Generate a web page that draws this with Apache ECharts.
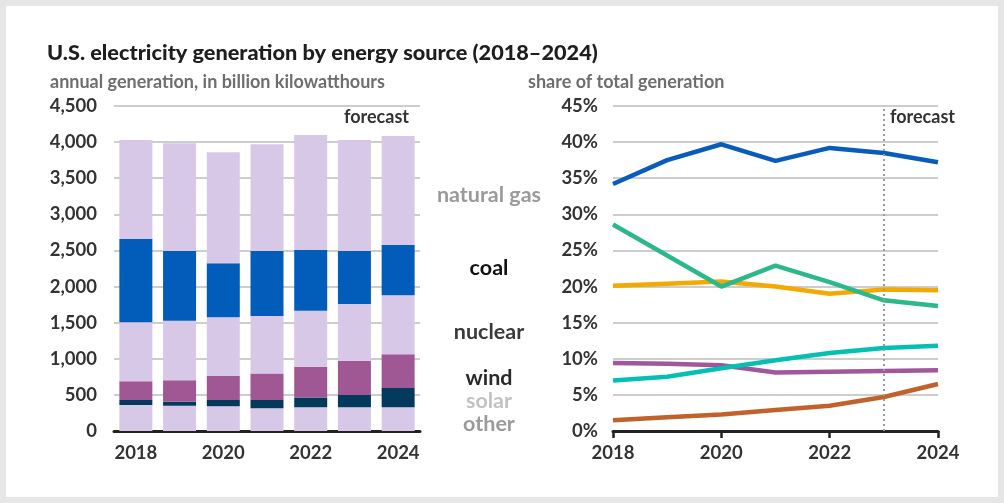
<!DOCTYPE html>
<html>
<head>
<meta charset="utf-8">
<script src="https://cdn.jsdelivr.net/npm/echarts@6/dist/echarts.min.js"></script>
<style>
html,body{margin:0;padding:0;background:#e6e6e6;}
#card{position:absolute;left:6px;top:6px;width:992px;height:491px;background:#fff;}
#chart{position:absolute;left:0;top:0;width:1004px;height:503px;}
</style>
</head>
<body>
<div id="card"></div>
<div id="chart"></div>
<script>
// ---- data ----
const years = ['2018','2019','2020','2021','2022','2023','2024'];
// left chart: annual generation, billion kWh (stack bottom -> top)
const genOther   = [360, 351, 342, 314, 330, 330, 330];
const genSolar   = [69, 55, 87, 115, 133, 169, 264];
const genWind    = [259, 298, 333, 367, 428, 475, 468];
const genNuclear = [817, 824, 813, 797, 775, 785, 817];
const genCoal    = [1154, 965, 747, 900, 841, 734, 697];
const genGas     = [1371, 1492, 1538, 1478, 1593, 1537, 1510];
// right chart: share of total generation, %
const shareGas     = [34.2, 37.5, 39.7, 37.4, 39.2, 38.5, 37.2];
const shareCoal    = [28.6, 24.3, 20.0, 22.9, 20.6, 18.1, 17.3];
const shareNuclear = [20.1, 20.4, 20.7, 20.0, 19.0, 19.6, 19.5];
const shareWind    = [7.0, 7.5, 8.7, 9.8, 10.8, 11.5, 11.8];
const shareOther   = [9.4, 9.3, 9.1, 8.1, 8.2, 8.3, 8.4];
const shareSolar   = [1.5, 1.9, 2.3, 2.9, 3.5, 4.7, 6.5];
const leftTicksMax = 4500, leftInterval = 500;
const rightTicksMax = 45, rightInterval = 5;
const forecastYear = '2023';

const FONT = 'Lato';
const chart = echarts.init(document.getElementById('chart'), null, {renderer:'canvas'});

const axisLabelStyle = {fontFamily: FONT, fontWeight: 'bold', fontSize: 18.5, color: '#333'};
const LAV = '#d8c8e7';

function bar(name, data, color) {
  return {name, type:'bar', stack:'gen', xAxisIndex:0, yAxisIndex:0, data,
    barWidth: 33, itemStyle:{color}, emphasis:{disabled:true}};
}
function line(name, data, color, extra) {
  return Object.assign({name, type:'line', xAxisIndex:1, yAxisIndex:1, data, symbol:'none',
    lineStyle:{color, width:4.5}, itemStyle:{color}, emphasis:{disabled:true}, z:3}, extra||{});
}

const option = {
  animation: false,
  textStyle: {fontFamily: FONT},
  title: [
    {text: 'U.S. electricity generation by energy source (2018–2024)', left: 42, top: 37,
     textStyle:{fontFamily:FONT, fontWeight:900, fontSize:21.7, color:'#1e1e1e'}},
    {text: 'annual generation, in billion kilowatthours', left: 45, top: 68,
     textStyle:{fontFamily:FONT, fontWeight:'bold', fontSize:18, color:'#6e6e6e'}},
    {text: 'share of total generation', left: 523, top: 68,
     textStyle:{fontFamily:FONT, fontWeight:'bold', fontSize:18, color:'#6e6e6e'}}
  ],
  grid: [
    {left:114, right:584, top:106, bottom:72},
    {left:613, right:66, top:106, bottom:72}
  ],
  xAxis: [
    {type:'category', data: years, gridIndex:0, boundaryGap:true,
     axisLine:{lineStyle:{color:'#222', width:3}}, axisTick:{show:false},
     axisLabel: Object.assign({interval:1, margin:13}, axisLabelStyle)},
    {type:'category', data: years, gridIndex:1, boundaryGap:false,
     axisLine:{lineStyle:{color:'#222', width:3}},
     axisTick:{show:true, length:7, lineStyle:{color:'#222', width:2.5}},
     axisLabel: Object.assign({interval:1, margin:13}, axisLabelStyle)}
  ],
  yAxis: [
    {type:'value', gridIndex:0, min:0, max:leftTicksMax, interval:leftInterval,
     axisLabel: Object.assign({margin:17, formatter: v => v.toLocaleString('en-US')}, axisLabelStyle),
     splitLine:{lineStyle:{color:'#bdbdbd', width:1.5}}, axisLine:{show:false}, axisTick:{show:false}},
    {type:'value', gridIndex:1, min:0, max:rightTicksMax, interval:rightInterval,
     axisLabel: Object.assign({margin:15, formatter: v => v + '%'}, axisLabelStyle),
     splitLine:{lineStyle:{color:'#bdbdbd', width:1.5}}, axisLine:{show:false}, axisTick:{show:false}}
  ],
  series: [
    bar('other', genOther, LAV),
    bar('solar', genSolar, '#033a5c'),
    bar('wind', genWind, '#a05894'),
    bar('nuclear', genNuclear, LAV),
    bar('coal', genCoal, '#015cba'),
    bar('natural gas', genGas, LAV),
    line('other share', shareOther, '#a0579b'),
    line('solar share', shareSolar, '#c0622a'),
    line('wind share', shareWind, '#04c0b2'),
    line('nuclear share', shareNuclear, '#f4a900'),
    line('coal share', shareCoal, '#2db88a'),
    line('natural gas share', shareGas, '#0a5cbb', {
      markLine:{silent:true, symbol:'none', label:{show:false},
        lineStyle:{type:[2,3], color:'#9a9a9a', width:2},
        data:[{xAxis: forecastYear}]}
    })
  ],
  graphic: [
    {type:'text', left:344, top:108, style:{text:'forecast', fontFamily:FONT, fontWeight:'bold', fontSize:18, fill:'#333'}},
    {type:'text', left:890, top:108, style:{text:'forecast', fontFamily:FONT, fontWeight:'bold', fontSize:18, fill:'#333'}},
    {type:'text', x:489, y:195, style:{text:'natural gas', align:'center', verticalAlign:'middle', fontFamily:FONT, fontWeight:'bold', fontSize:21.5, fill:'#9a9a9a'}},
    {type:'text', x:489, y:268, style:{text:'coal', align:'center', verticalAlign:'middle', fontFamily:FONT, fontWeight:'bold', fontSize:21.5, fill:'#111'}},
    {type:'text', x:489, y:332, style:{text:'nuclear', align:'center', verticalAlign:'middle', fontFamily:FONT, fontWeight:'bold', fontSize:21.5, fill:'#3a3a3a'}},
    {type:'text', x:489, y:378, style:{text:'wind', align:'center', verticalAlign:'middle', fontFamily:FONT, fontWeight:'bold', fontSize:21.5, fill:'#2a2a2a'}},
    {type:'text', x:489, y:401, style:{text:'solar', align:'center', verticalAlign:'middle', fontFamily:FONT, fontWeight:'bold', fontSize:21.5, fill:'#c2c2c2'}},
    {type:'text', x:489, y:424, style:{text:'other', align:'center', verticalAlign:'middle', fontFamily:FONT, fontWeight:'bold', fontSize:21.5, fill:'#9a9a9a'}}
  ]
};
chart.setOption(option);
</script>
</body>
</html>
